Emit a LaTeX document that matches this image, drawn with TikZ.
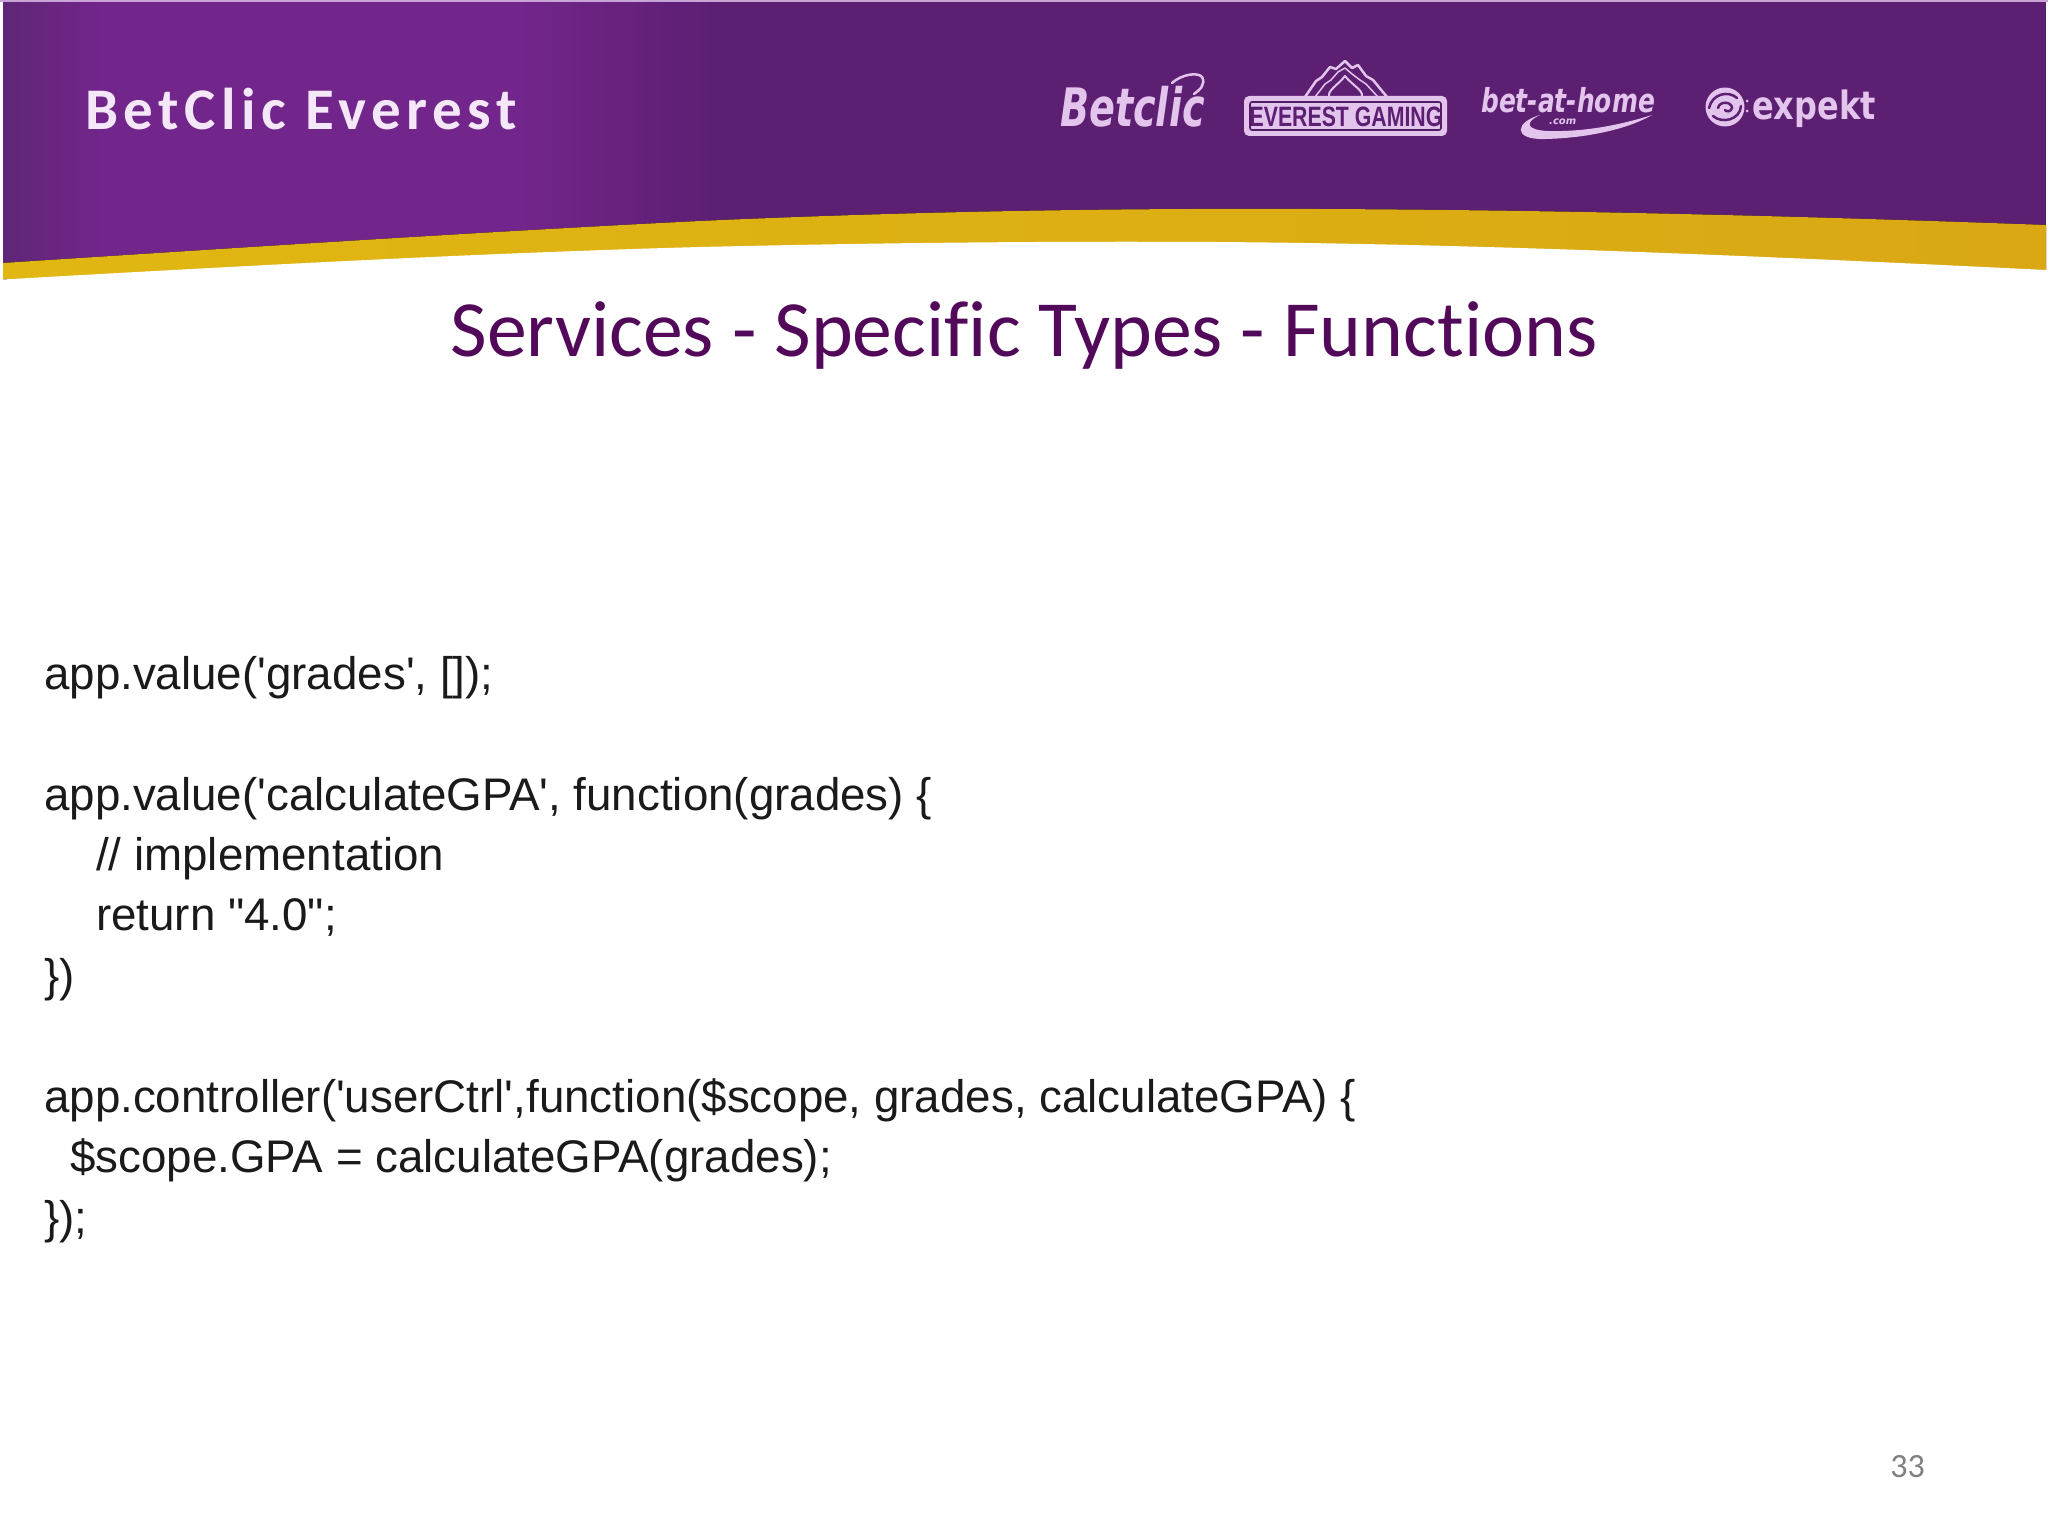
\documentclass[tikz,border=0pt]{standalone}
\usepackage{fontspec}
\setmainfont{Liberation Sans}
\newfontfamily\codefont{Liberation Sans}
\newfontfamily\titlefont{Carlito}[Ligatures=NoCommon]
\newfontfamily\brandfont{Carlito}[LetterSpace=9.5,Ligatures=NoCommon]
\newfontfamily\logofont{DejaVu Sans}
\definecolor{purpledark}{HTML}{5C1F72}
\definecolor{purplelight}{HTML}{72258A}
\definecolor{purpleedge}{HTML}{5F2676}
\definecolor{goldleft}{HTML}{E1B712}
\definecolor{goldright}{HTML}{D9A814}
\definecolor{titlepurple}{HTML}{53095A}
\definecolor{logopink}{HTML}{E3C4EC}
\definecolor{borderpink}{HTML}{C9A4D6}
\definecolor{codeblack}{HTML}{1A1A1A}
\tikzset{
  x=1pt,y=-1pt,
  code/.style={anchor=base west,inner sep=0pt,font=\codefont\fontsize{45.7}{56}\selectfont,text=codeblack},
  logo/.style={anchor=base west,inner sep=0pt,text=logopink},
}
\begin{document}
\begin{tikzpicture}
\useasboundingbox (0,0) rectangle (2048,1536);
\fill[white] (0,0) rectangle (2048,1536);
% banner
\fill[left color=purpleedge,right color=purplelight] (3,2) rectangle (100,282);
\fill[purplelight] (99,2) rectangle (521,282);
\fill[left color=purplelight,right color=purpledark] (520,2) rectangle (721,282);
\fill[purpledark] (720,2) rectangle (2046,282);
\fill[borderpink] (0,0) rectangle (2048,2.5);
% gold band
\fill[left color=goldleft,right color=goldright] (3,263) .. controls (250,247) and (480,232) .. (700,221) .. controls (900,212) and (1100,208) .. (1319,209) .. controls (1560,210) and (1800,216) .. (2046,225) -- (2046,270) -- (3,279) -- cycle;
\fill[white] (0,279.5) -- (3,279.5) .. controls (240,266) and (480,253) .. (700,247) .. controls (870,243) and (1040,241) .. (1216,242) .. controls (1500,244) and (1800,258) .. (2046,270) -- (2048,270) -- (2048,300) -- (0,300) -- cycle;
% heading
\node[anchor=base west,inner sep=0pt,text=logopink!40!white,font=\brandfont\bfseries\fontsize{59}{70}\selectfont] (brand) at (85,130) {BetClic Everest};
% Betclic logo
\node[logo,font=\logofont\bfseries\itshape\fontsize{53}{60}\selectfont,xscale=.72] (betclic) at (1060,127) {Betclic};
\draw[logopink,line width=2.5pt,line cap=round] (1172,83) .. controls (1182,74) and (1198,72) .. (1202,77) .. controls (1206,84) and (1200,90) .. (1194,94);
% Everest Gaming logo
\draw[logopink,line width=2.5pt,line join=round] (1305,97) -- (1316,81) -- (1322,77) -- (1330,67) -- (1336,69) -- (1345,61) -- (1352,68) -- (1358,65) -- (1366,76) -- (1373,80) -- (1387,97);
\draw[logopink,line width=1.5pt,line join=round] (1315,97) -- (1325,84) -- (1331,80) -- (1338,72) -- (1345,68) -- (1352,74) -- (1360,80) -- (1366,84) -- (1378,97);
\draw[logopink,line width=2pt,line join=round] (1345,76) .. controls (1338,85) and (1328,90) .. (1329,96) .. controls (1331,104) and (1341,100) .. (1344,97) -- (1340,101) -- (1352,101) -- (1347,97) .. controls (1350,100) and (1360,104) .. (1362,96) .. controls (1363,90) and (1352,85) .. (1345,76) -- cycle;
\fill[logopink,rounded corners=5pt] (1244,96) rectangle (1447,136);
\draw[purpledark!90!black,line width=1.6pt,rounded corners=2pt] (1250,102) rectangle (1441,130);
\node[anchor=center,inner sep=0pt,text=purpledark,font=\bfseries\fontsize{28}{30}\selectfont,xscale=.76] (everest) at (1346,117) {EVEREST GAMING};
% bet-at-home logo
\node[logo,font=\logofont\bfseries\itshape\fontsize{33}{40}\selectfont,xscale=.755] (bet) at (1481,113) {bet-at-home};
\node[logo,font=\logofont\bfseries\itshape\fontsize{10}{12}\selectfont] (com) at (1549,125) {.com};
\fill[logopink] (1540,115) .. controls (1515,122) and (1512,140) .. (1545,139) .. controls (1590,138) and (1630,128) .. (1652,115) .. controls (1620,125) and (1585,132) .. (1548,131) .. controls (1525,130) and (1525,122) .. (1540,115) -- cycle;
% expekt logo
\fill[logopink] (1725,107) circle[radius=19.5];
\draw[purpledark,line width=2.5pt,line cap=round] (1709,108) .. controls (1712,94) and (1728,90) .. (1737,98);
\draw[purpledark,line width=2.5pt,line cap=round] (1741,106) .. controls (1740,120) and (1722,124) .. (1713,116);
\draw[purpledark,line width=2.5pt,line cap=round] (1718,108) .. controls (1720,100) and (1732,102) .. (1732,108) .. controls (1731,112) and (1726,112) .. (1725,110);
\fill[logopink] (1747,101) circle[radius=1.5] (1747,111) circle[radius=1.5];
\node[logo,font=\logofont\bfseries\fontsize{39}{44}\selectfont,xscale=.82] (expekt) at (1752,120) {expekt};
% title
\node[anchor=base,inner sep=0pt,text=titlepurple,font=\titlefont\fontsize{79.7}{96}\selectfont] (title) at (1024,356) {Services - Specific Types - Functions};
% code
\node[code] (l1) at (44,689) {app.value('grades', []);};
\node[code] (l2) at (44,810) {app.value('calculateGPA', function(grades) \{};
\node[code] (l3) at (96,870) {// implementation};
\node[code] (l4) at (96,930) {return "4.0";};
\node[code] (l5) at (44,991) {\})};
\node[code] (l6) at (44,1112) {app.controller('userCtrl',function(\$scope, grades, calculateGPA) \{};
\node[code] (l7) at (70,1172) {\$scope.GPA = calculateGPA(grades);};
\node[code] (l8) at (44,1233) {\});};
% page number
\node[anchor=base east,inner sep=0pt,text=black!50,font=\titlefont\fontsize{34}{40}\selectfont] (page) at (1925,1477) {33};
\end{tikzpicture}
\end{document}
